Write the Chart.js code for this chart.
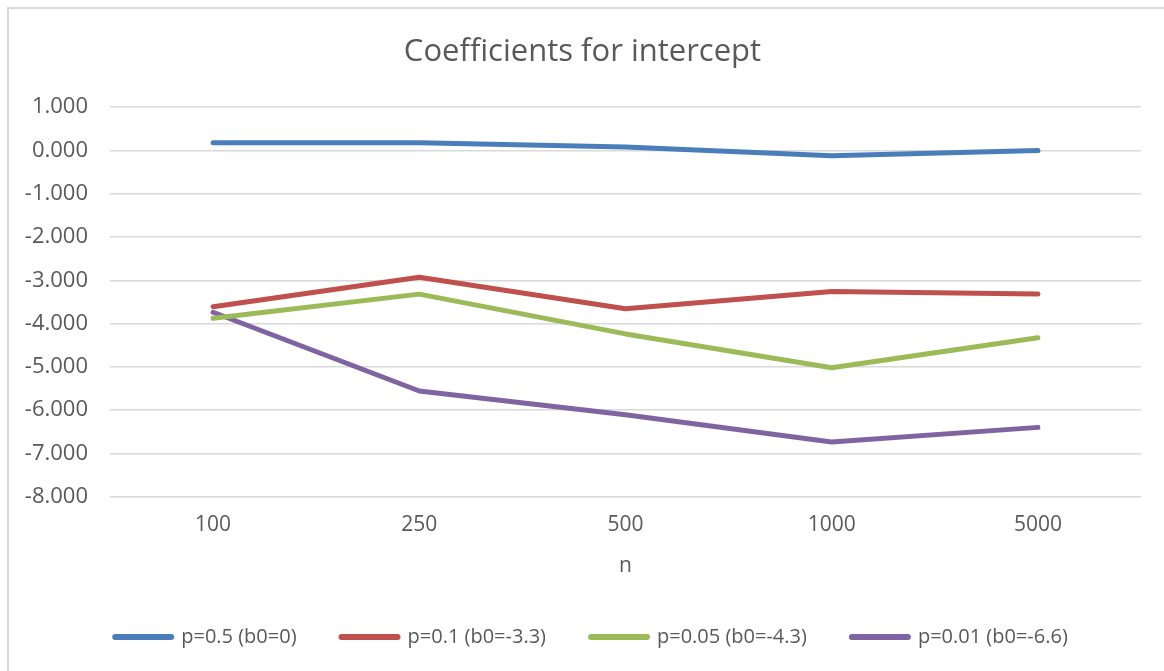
<!DOCTYPE html>
<html>
<head>
<meta charset="utf-8">
<title>Coefficients for intercept</title>
<script src="https://cdn.jsdelivr.net/npm/chart.js@4/dist/chart.umd.min.js"></script>
<style>
  html, body { margin: 0; padding: 0; background: #ffffff; }
  #wrap { width: 1164px; height: 671px; position: relative; }
</style>
</head>
<body>
<div id="wrap"><canvas id="chart" width="1164" height="671"></canvas></div>
<script>
// Sample sizes on the category axis
const sampleSizes = ['100', '250', '500', '1000', '5000'];

// Estimated intercept coefficients for each event probability
const p050 = [0.18, 0.18, 0.08, -0.12, 0.00];
const p010 = [-3.61, -2.93, -3.66, -3.26, -3.32];
const p005 = [-3.88, -3.32, -4.24, -5.02, -4.33];
const p001 = [-3.74, -5.56, -6.11, -6.74, -6.40];

const seriesNames = ['p=0.5 (b0=0)', 'p=0.1 (b0=-3.3)', 'p=0.05 (b0=-4.3)', 'p=0.01 (b0=-6.6)'];
const seriesValues = [p050, p010, p005, p001];
const seriesColors = ['#4a7ebb', '#c0504d', '#9bbb59', '#8064a2'];

const textColor = '#595959';
const fontFamily = '"Open Sans", "Noto Sans", sans-serif';

// Light frame along the top and left edges of the chart
const framePlugin = {
  id: 'frame',
  beforeDraw(chart) {
    const ctx = chart.ctx;
    ctx.save();
    ctx.fillStyle = '#ffffff';
    ctx.fillRect(0, 0, chart.width, chart.height);
    ctx.strokeStyle = '#d9d9d9';
    ctx.lineWidth = 2;
    ctx.beginPath();
    ctx.moveTo(8, chart.height);
    ctx.lineTo(8, 8);
    ctx.lineTo(chart.width, 8);
    ctx.stroke();
    ctx.restore();
  }
};

// Nudge the legend row a little to the right of the default centre
const legendShiftPlugin = {
  id: 'legendShift',
  afterLayout(chart) {
    if (chart.legend) {
      chart.legend.left += 9;
      chart.legend.right += 9;
    }
  }
};

new Chart(document.getElementById('chart'), {
  type: 'line',
  data: {
    labels: sampleSizes,
    datasets: seriesNames.map((name, i) => ({
      label: name,
      data: seriesValues[i],
      borderColor: seriesColors[i],
      backgroundColor: seriesColors[i],
      borderWidth: 5,
      borderCapStyle: 'round',
      borderJoinStyle: 'round',
      pointRadius: 0,
      pointHoverRadius: 0,
      tension: 0,
      fill: false
    }))
  },
  options: {
    responsive: false,
    animation: false,
    layout: { padding: { left: 24, right: 23, top: 10, bottom: 14 } },
    plugins: {
      title: {
        display: true,
        text: 'Coefficients for intercept',
        color: textColor,
        font: { family: fontFamily, size: 31, weight: 'normal' },
        padding: { top: 24, bottom: 36 }
      },
      legend: {
        position: 'bottom',
        labels: {
          usePointStyle: true,
          pointStyle: 'line',
          pointStyleWidth: 56,
          padding: 45,
          color: textColor,
          font: { family: fontFamily, size: 20 },
          generateLabels(chart) {
            const items = Chart.defaults.plugins.legend.labels.generateLabels(chart);
            items.forEach((item) => { item.lineWidth = 6; item.lineCap = 'round'; });
            return items;
          }
        }
      },
      tooltip: { enabled: false }
    },
    scales: {
      x: {
        offset: true,
        grid: { display: false, drawTicks: false },
        border: { display: false },
        ticks: {
          color: textColor,
          padding: 16,
          font: { family: fontFamily, size: 21 }
        },
        title: {
          display: true,
          text: 'n',
          color: textColor,
          font: { family: fontFamily, size: 21 },
          padding: { top: 0, bottom: 3 }
        }
      },
      y: {
        min: -8,
        max: 1,
        afterFit(scale) { scale.width = 86; },
        grid: { color: '#d9d9d9', lineWidth: 1.5, drawTicks: false },
        border: { display: false },
        ticks: {
          stepSize: 1,
          color: textColor,
          padding: 22,
          font: { family: fontFamily, size: 22 },
          callback: (v) => Number(v).toFixed(3)
        }
      }
    }
  },
  plugins: [framePlugin, legendShiftPlugin]
});
</script>
</body>
</html>
